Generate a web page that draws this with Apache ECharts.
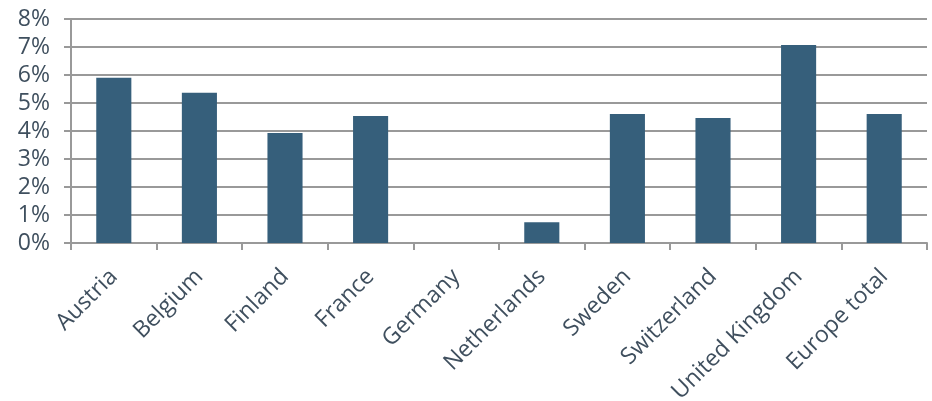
<!DOCTYPE html>
<html>
<head>
<meta charset="utf-8">
<script src="https://cdn.jsdelivr.net/npm/echarts@6/dist/echarts.min.js"></script>
<style>
  html, body { margin: 0; padding: 0; background: #ffffff; }
  #chart { width: 932px; height: 401px; }
</style>
</head>
<body>
<div id="chart"></div>
<script>
// Countries along the x axis
const categories = ['Austria', 'Belgium', 'Finland', 'France', 'Germany', 'Netherlands', 'Sweden', 'Switzerland', 'United Kingdom', 'Europe total'];
// Share per country, in percent
const values = [5.9, 5.37, 3.93, 4.54, 0, 0.74, 4.61, 4.46, 7.07, 4.61];
// Y axis range and step (percent)
const yMin = 0;
const yMax = 8;
const yStep = 1;

const textColor = '#3f4f5e';
const lineColor = '#999999';

const chart = echarts.init(document.getElementById('chart'));
chart.setOption({
  animation: false,
  grid: { left: 71, right: 5, top: 19, bottom: 158, outerBoundsMode: 'none' },
  xAxis: {
    type: 'category',
    data: categories,
    axisLine: { lineStyle: { color: lineColor, width: 2 } },
    axisTick: { show: true, length: 7, lineStyle: { color: lineColor, width: 2 } },
    axisLabel: {
      rotate: 45,
      interval: 0,
      margin: 30,
      color: textColor,
      fontFamily: 'Open Sans',
      fontSize: 23
    }
  },
  yAxis: {
    type: 'value',
    min: yMin,
    max: yMax,
    interval: yStep,
    axisLine: { show: true, lineStyle: { color: lineColor, width: 2 } },
    axisTick: { show: true, length: 7, lineStyle: { color: lineColor, width: 2 } },
    splitLine: { lineStyle: { color: lineColor, width: 2 } },
    axisLabel: {
      margin: 21,
      color: textColor,
      fontFamily: 'Open Sans',
      fontSize: 23,
      formatter: v => v + '%'
    }
  },
  series: [{
    type: 'bar',
    data: values,
    barWidth: '41%',
    itemStyle: { color: '#365f7b' }
  }]
});
</script>
</body>
</html>
